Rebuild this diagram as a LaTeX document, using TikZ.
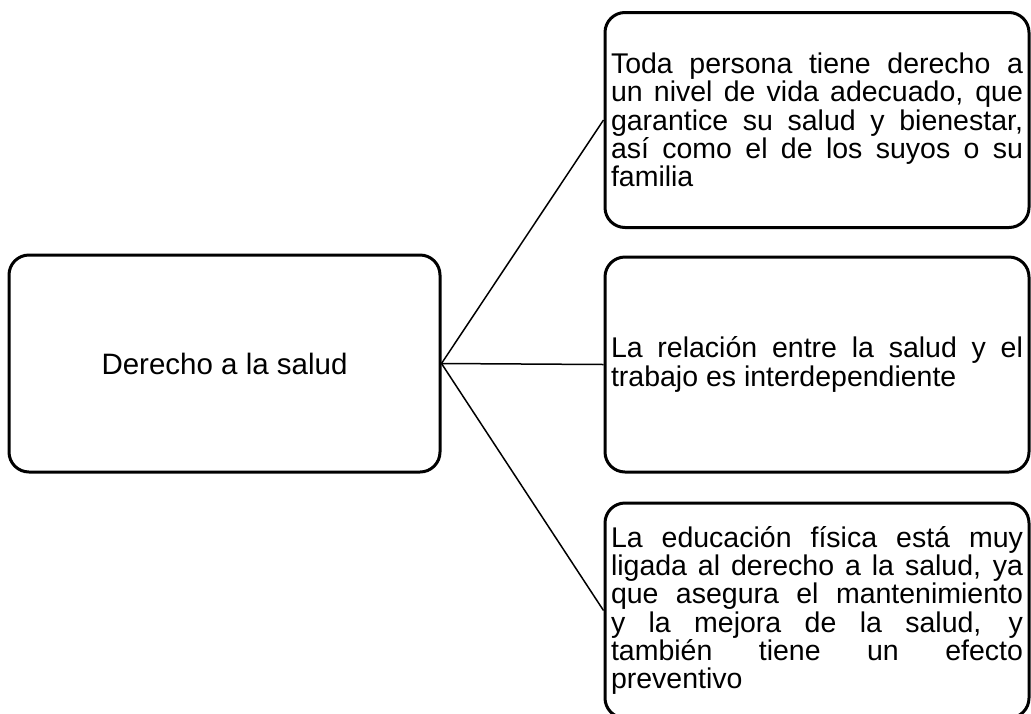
\documentclass[tikz,border=0pt]{standalone}
\usepackage{fontspec}
\setmainfont{Liberation Sans}
\usetikzlibrary{positioning}

\tikzset{
  topic/.style={draw, line width=3pt, rounded corners=20pt, minimum width=431pt, minimum height=217pt, align=center, font=\fontsize{29.5}{30}\selectfont},
  idea/.style={draw, line width=3pt, rounded corners=20pt, minimum width=424pt, minimum height=215pt, text width=412pt, inner xsep=6pt, align=justify, font=\fontsize{28.5}{28.3}\selectfont},
  link/.style={line width=1.5pt}
}

\begin{document}
\begin{tikzpicture}[x=1pt,y=-1pt]
\useasboundingbox[fill=white] (0,0) rectangle (1031,713);
\node[topic] (salud) at (224.5,363.5) {Derecho a la salud};
\node[idea] (vida) at (817,120) {Toda persona tiene derecho a\linebreak un nivel de vida adecuado, que\linebreak garantice su salud y bienestar,\linebreak así como el de los suyos o su\linebreak familia};
\node[idea] (trabajo) at (817,364.5) {La relación entre la salud y el\linebreak trabajo es interdependiente};
\node[idea] (educ) at (817,610.5) {La educación física está muy\linebreak ligada al derecho a la salud, ya\linebreak que asegura el mantenimiento\linebreak y la mejora de la salud, y\linebreak también tiene un efecto\linebreak preventivo};
\draw[link] (salud.east) -- (vida.west);
\draw[link] (salud.east) -- (trabajo.west);
\draw[link] (salud.east) -- (educ.west);
\end{tikzpicture}
\end{document}
